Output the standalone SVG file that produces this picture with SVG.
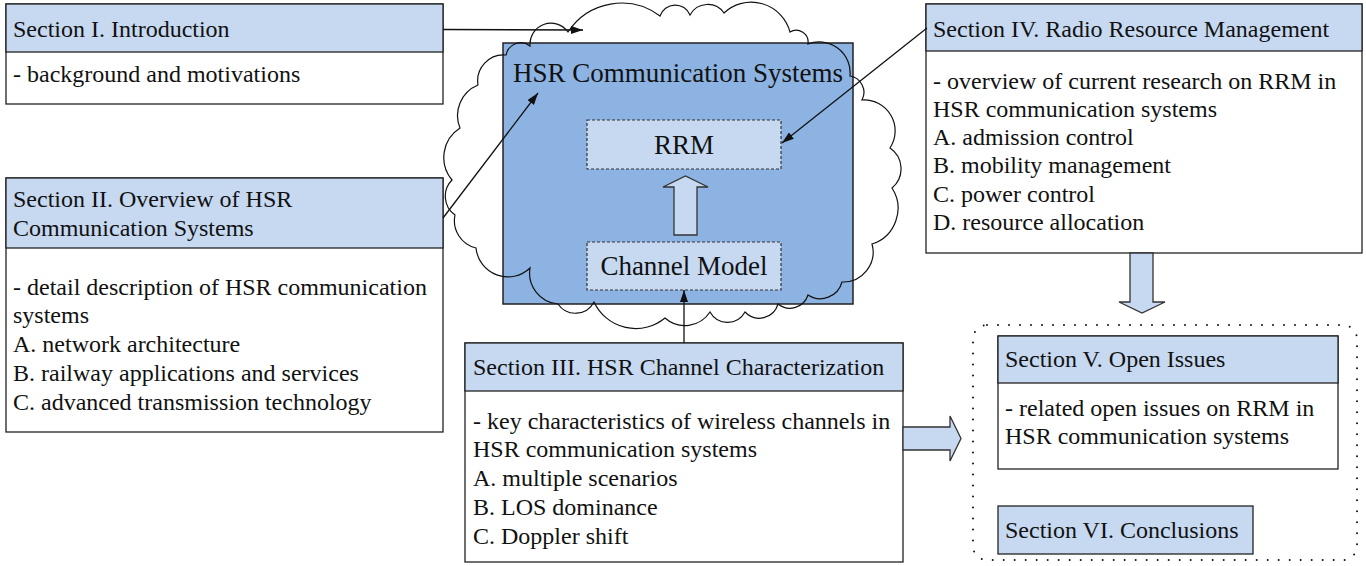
<svg xmlns="http://www.w3.org/2000/svg" width="1366" height="566" viewBox="0 0 1366 566">
<defs>
<style>
.t{font-family:"Liberation Serif","Times New Roman",serif;font-size:24px;fill:#111}
.big{font-family:"Liberation Serif","Times New Roman",serif;font-size:27px;fill:#111}
.hdr{fill:#c6d9f1;stroke:#222;stroke-width:1.3}
.body{fill:#fff;stroke:#222;stroke-width:1.3}
.blk{fill:#c6d9f1;stroke:#333;stroke-width:1.3}
.dash{fill:#c6d9f1;stroke:#333;stroke-width:1.2;stroke-dasharray:3 2}
.ln{fill:none;stroke:#111;stroke-width:1.3}
</style>
<marker id="ah" viewBox="0 0 12 8" refX="12" refY="4" markerWidth="12" markerHeight="8" markerUnits="userSpaceOnUse" orient="auto">
<path d="M0,0 L12,4 L0,8 Z" fill="#111"/>
</marker>
</defs>
<rect width="1366" height="566" fill="#fff"/>

<g id="hsr-system">
<rect x="503" y="43" width="350" height="261" fill="#8db3e2" stroke="#222" stroke-width="1.5"/>
<path fill="none" stroke="#111" stroke-width="1.2" d="M530,46 A21,21 0 0 1 568,32 A64,64 0 0 1 660,16 A16,16 0 0 1 690,15 A20,20 0 0 1 724,13 A40,40 0 0 1 790,32 A12,12 0 0 1 808,44 A31,31 0 0 1 850,76 A16.5,16.5 0 0 1 862,100 A31,31 0 0 1 890,148 A25,25 0 0 1 892,188 A37.5,37.5 0 0 1 872,244 A30,30 0 0 1 842,282 A22.5,22.5 0 0 1 808,295 A19,19 0 0 1 778,304 A19.5,19.5 0 0 1 745,312 A20,20 0 0 1 710,312 A30,30 0 0 1 665,318 A46,46 0 0 1 594,302 A21,21 0 0 1 558,304 A31,31 0 0 1 530,268 A32,32 0 0 1 476,248 A28,28 0 0 1 455,215 A23,23 0 0 1 452,180 A35,35 0 0 1 460,128 A33,33 0 0 1 478,85 A26,26 0 0 1 506,55 A15,15 0 0 1 530,46 Z"/>
<text class="big" x="678" y="82" text-anchor="middle">HSR Communication Systems</text>
</g>

<g id="rrm">
<rect class="dash" x="587" y="120" width="194" height="49"/>
<text class="big" x="684" y="154" text-anchor="middle">RRM</text>
</g>

<g id="channel-model">
<rect class="dash" x="587" y="242" width="194" height="48"/>
<text class="big" x="684" y="275" text-anchor="middle">Channel Model</text>
</g>

<g id="sec1">
<rect class="body" x="6" y="4" width="437" height="100"/>
<rect class="hdr" x="6" y="4" width="437" height="48"/>
<text class="t" x="13" y="37">Section I. Introduction</text>
<text class="t" x="13" y="82">- background and motivations</text>
</g>

<g id="sec2">
<rect class="body" x="6" y="178" width="437" height="254"/>
<rect class="hdr" x="6" y="178" width="437" height="70"/>
<text class="t" x="13" y="207">Section II. Overview of HSR</text>
<text class="t" x="13" y="236">Communication Systems</text>
<text class="t" x="13" y="295">- detail description of HSR communication</text>
<text class="t" x="13" y="323">systems</text>
<text class="t" x="13" y="352">A. network architecture</text>
<text class="t" x="13" y="381">B. railway applications and services</text>
<text class="t" x="13" y="410">C. advanced transmission technology</text>
</g>

<g id="sec3">
<rect class="body" x="465" y="343" width="438" height="219"/>
<rect class="hdr" x="465" y="343" width="438" height="48"/>
<text class="t" x="473" y="375">Section III. HSR Channel Characterization</text>
<text class="t" x="473" y="429">- key characteristics of wireless channels in</text>
<text class="t" x="473" y="457">HSR communication systems</text>
<text class="t" x="473" y="486">A. multiple scenarios</text>
<text class="t" x="473" y="515">B. LOS dominance</text>
<text class="t" x="473" y="544">C. Doppler shift</text>
</g>

<g id="sec4">
<rect class="body" x="926" y="4" width="436" height="249"/>
<rect class="hdr" x="926" y="4" width="436" height="47"/>
<text class="t" x="933" y="37">Section IV. Radio Resource Management</text>
<text class="t" x="933" y="89">- overview of current research on RRM in</text>
<text class="t" x="933" y="117">HSR communication systems</text>
<text class="t" x="933" y="145">A. admission control</text>
<text class="t" x="933" y="173">B. mobility management</text>
<text class="t" x="933" y="202">C. power control</text>
<text class="t" x="933" y="230">D. resource allocation</text>
</g>

<g id="group-v-vi">
<rect x="973" y="325" width="384" height="235" rx="14" fill="none" stroke="#111" stroke-width="2" stroke-dasharray="0 11" stroke-linecap="round"/>
</g>

<g id="sec5">
<rect class="body" x="998" y="336" width="340" height="133"/>
<rect class="hdr" x="998" y="336" width="340" height="47"/>
<text class="t" x="1005" y="367">Section V. Open Issues</text>
<text class="t" x="1005" y="416">- related open issues on RRM in</text>
<text class="t" x="1005" y="444">HSR communication systems</text>
</g>

<g id="sec6">
<rect class="hdr" x="998" y="506" width="255" height="48"/>
<text class="t" x="1005" y="538">Section VI. Conclusions</text>
</g>

<g id="connectors">
<line class="ln" x1="443" y1="29.5" x2="583" y2="30" marker-end="url(#ah)"/>
<line class="ln" x1="443" y1="218" x2="538" y2="93" marker-end="url(#ah)"/>
<line class="ln" x1="927" y1="28" x2="782" y2="143" marker-end="url(#ah)"/>
<line class="ln" x1="684" y1="343" x2="684" y2="290" marker-end="url(#ah)"/>
<path class="blk" d="M674,235 L674,187 L663,187 L685.5,176 L708,187 L697,187 L697,235 Z"/>
<path class="blk" d="M1130,253 L1130,302 L1119,302 L1142,313 L1165,302 L1153,302 L1153,253 Z"/>
<path class="blk" d="M903,427 L950,427 L950,416 L961,438.5 L950,461 L950,450 L903,450 Z"/>
</g>
</svg>
